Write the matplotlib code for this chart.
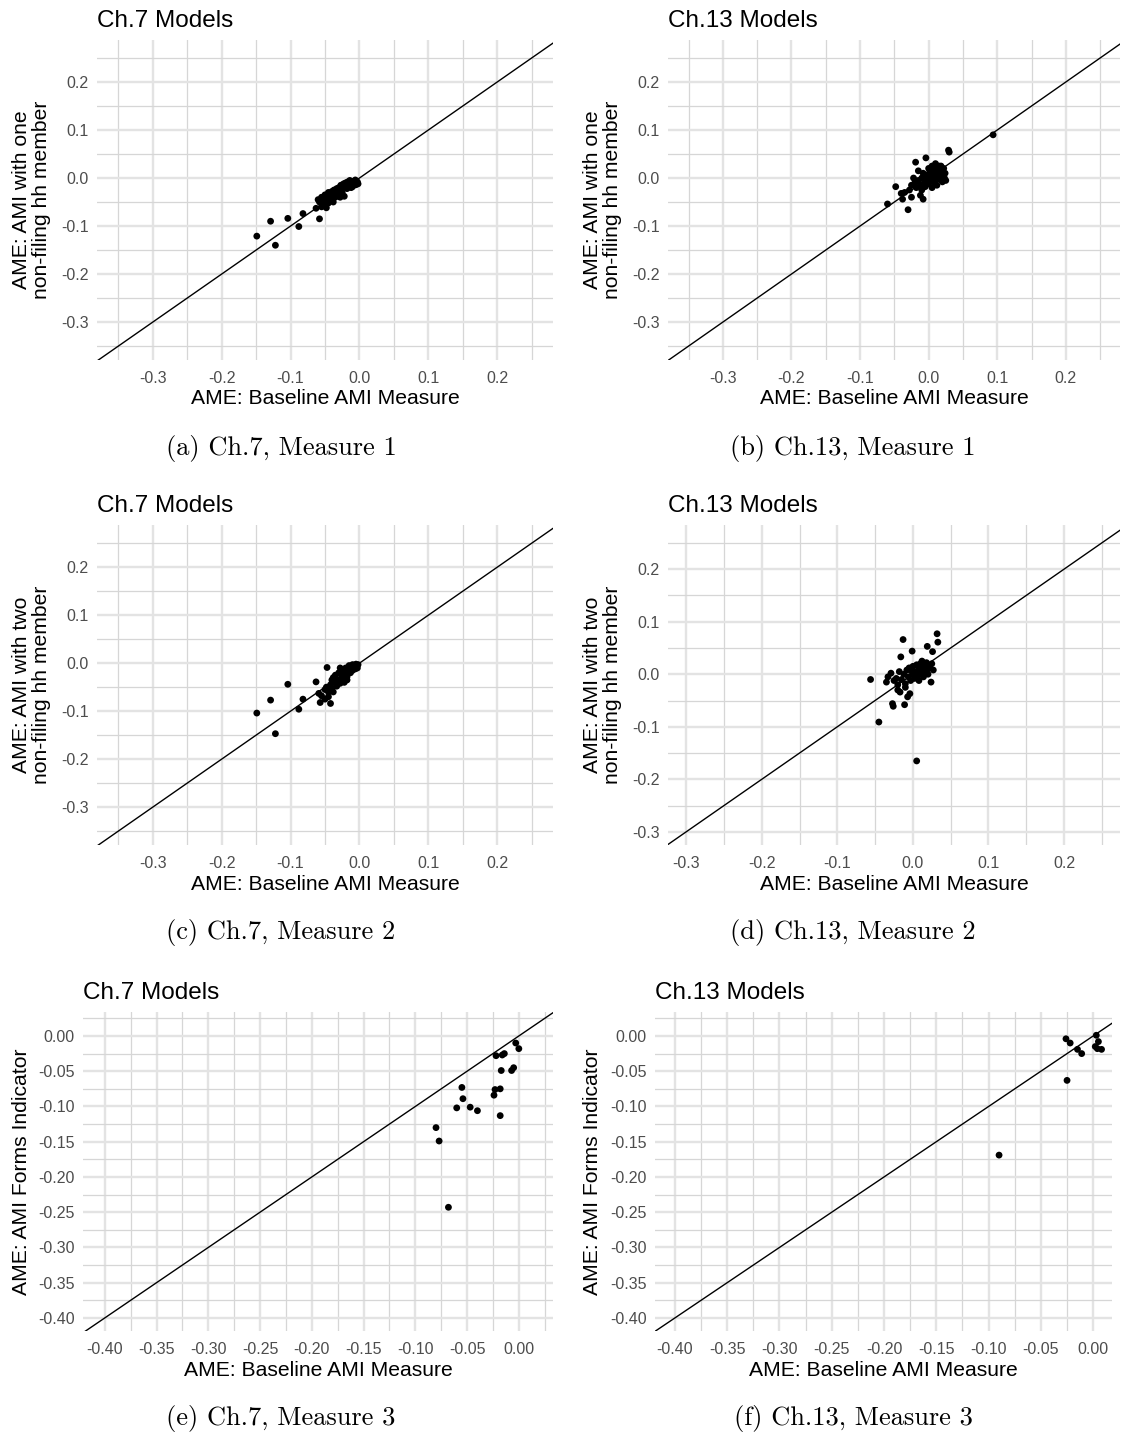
import matplotlib
matplotlib.use("Agg")
import matplotlib.pyplot as plt
import numpy as np
from matplotlib.ticker import MultipleLocator, FormatStrFormatter

# ---------------- data ----------------
a_x = [-0.149, -0.129, -0.122, -0.104, -0.088, -0.082, -0.058, -0.063, -0.057,
       -0.06, -0.058, -0.055, -0.055, -0.052, -0.05, -0.05, -0.048, -0.047, -0.045,
       -0.045, -0.043, -0.042, -0.04, -0.04, -0.038, -0.037, -0.035, -0.035, -0.033,
       -0.032, -0.03, -0.03, -0.028, -0.027, -0.025, -0.025, -0.023, -0.022, -0.02,
       -0.02, -0.018, -0.017, -0.015, -0.014, -0.012, -0.01, -0.01, -0.008, -0.006,
       -0.005, -0.003, -0.002, -0.012, -0.028]
a_y = [-0.121, -0.090, -0.140, -0.084, -0.101, -0.074, -0.085, -0.063, -0.046,
       -0.045, -0.05, -0.06, -0.04, -0.055, -0.035, -0.048, -0.062, -0.042, -0.03,
       -0.052, -0.038, -0.045, -0.028, -0.035, -0.05, -0.025, -0.032, -0.04, -0.022,
       -0.03, -0.02, -0.036, -0.025, -0.015, -0.03, -0.02, -0.012, -0.038, -0.018,
       -0.01, -0.022, -0.008, -0.015, -0.005, -0.012, -0.018, -0.007, -0.01, -0.004,
       -0.014, -0.008, -0.012, -0.02, -0.04]

b_x = [0.094, 0.029, 0.030, -0.060, -0.048, -0.030, -0.019, -0.004, -0.038, -0.008,
       -0.012, -0.035, -0.028, -0.040, -0.025, -0.02, -0.018, -0.015, -0.012, -0.01,
       -0.01, -0.008, -0.006, -0.005, -0.004, -0.002, 0.0, 0.0, 0.002, 0.003, 0.004,
       0.005, 0.006, 0.008, 0.009, 0.01, 0.011, 0.012, 0.014, 0.015, 0.016, 0.018,
       0.02, 0.02, 0.022, 0.024, 0.025, -0.022, -0.015, -0.025, 0.005, 0.01, 0.0,
       0.018, 0.023]
b_y = [0.090, 0.058, 0.054, -0.054, -0.018, -0.066, 0.033, 0.042, -0.044, -0.044,
       -0.036, -0.030, -0.025, -0.032, -0.040, -0.01, -0.02, -0.005, -0.015, 0.0,
       -0.025, 0.01, -0.008, -0.018, 0.005, -0.002, -0.012, 0.008, 0.015, -0.005, 0.002,
       -0.02, 0.012, 0.0, -0.01, 0.02, 0.005, -0.015, 0.01, 0.025, -0.003, 0.015,
       0.005, -0.008, 0.02, 0.01, -0.005, 0.0, 0.015, -0.015, 0.025, 0.03, 0.02,
       0.025, 0.0]

c_x = [-0.149, -0.129, -0.122, -0.104, -0.088, -0.082, -0.063, -0.047, -0.057, -0.059,
       -0.042, -0.05, -0.045, -0.055, -0.05, -0.048, -0.045, -0.042, -0.04, -0.04,
       -0.038, -0.035, -0.035, -0.033, -0.03, -0.03, -0.028, -0.026, -0.025, -0.023,
       -0.022, -0.02, -0.02, -0.018, -0.016, -0.015, -0.013, -0.012, -0.01, -0.01,
       -0.008, -0.006, -0.005, -0.004, -0.003, -0.002, -0.028, -0.038, -0.018]
c_y = [-0.104, -0.077, -0.147, -0.044, -0.096, -0.075, -0.039, -0.009, -0.082, -0.063,
       -0.084, -0.075, -0.07, -0.068, -0.055, -0.05, -0.06, -0.045, -0.052, -0.035,
       -0.06, -0.04, -0.025, -0.048, -0.035, -0.02, -0.042, -0.03, -0.015, -0.025,
       -0.04, -0.018, -0.01, -0.028, -0.012, -0.005, -0.02, -0.01, -0.015, -0.003,
       -0.008, -0.012, -0.002, -0.006, -0.01, -0.003, -0.01, -0.03, -0.035]

d_x = [0.005, -0.045, -0.056, -0.013, -0.001, -0.016, 0.032, 0.033, 0.019, 0.026,
       -0.027, -0.026, -0.011, -0.017, -0.007, -0.004, 0.024, -0.033, -0.029, -0.022,
       -0.035, -0.02, -0.025, -0.015, -0.012, -0.01, -0.008, -0.006, -0.005, -0.003,
       0.0, 0.0, 0.002, 0.004, 0.005, 0.006, 0.008, 0.01, 0.01, 0.012, 0.014, 0.015,
       0.016, 0.018, 0.02, 0.02, 0.022, 0.025, 0.027, -0.018, -0.002, 0.008, 0.012,
       -0.01, -0.02]
d_y = [-0.165, -0.091, -0.010, 0.066, 0.044, 0.033, 0.077, 0.061, 0.053, 0.043,
       -0.056, -0.061, -0.058, -0.034, -0.043, -0.037, -0.015, -0.005, 0.002, -0.008,
       -0.015, -0.02, -0.012, -0.01, 0.0, -0.018, 0.008, -0.005, 0.012, -0.012,
       0.0, 0.015, -0.008, 0.005, 0.018, -0.003, 0.01, 0.0, 0.02, 0.008, -0.005, 0.015,
       0.005, 0.022, 0.01, 0.0, 0.015, 0.02, 0.008, 0.005, 0.006, -0.012, 0.025,
       -0.025, -0.03]

e_x = [-0.003, 0.000, -0.022, -0.016, -0.014, -0.017, -0.007, -0.005, -0.055, -0.054,
       -0.060, -0.047, -0.040, -0.023, -0.024, -0.018, -0.018, -0.080, -0.077, -0.068]
e_y = [-0.010, -0.018, -0.028, -0.027, -0.025, -0.049, -0.049, -0.045, -0.073, -0.089,
       -0.102, -0.101, -0.106, -0.076, -0.084, -0.075, -0.113, -0.130, -0.149, -0.243]

f_x = [-0.026, -0.022, -0.015, -0.011, 0.003, 0.005, 0.002, 0.004, 0.008, -0.025, -0.090]
f_y = [-0.004, -0.010, -0.019, -0.025, 0.001, -0.008, -0.015, -0.018, -0.019, -0.063, -0.169]

titles = ["Ch.7 Models", "Ch.13 Models", "Ch.7 Models", "Ch.13 Models", "Ch.7 Models", "Ch.13 Models"]
ylabels = ["AME: AMI with one\nnon-filing hh member", "AME: AMI with one\nnon-filing hh member",
           "AME: AMI with two\nnon-filing hh member", "AME: AMI with two\nnon-filing hh member",
           "AME: AMI Forms Indicator", "AME: AMI Forms Indicator"]
xlabel = "AME: Baseline AMI Measure"
captions = ["(a) Ch.7, Measure 1", "(b) Ch.13, Measure 1", "(c) Ch.7, Measure 2",
            "(d) Ch.13, Measure 2", "(e) Ch.7, Measure 3", "(f) Ch.13, Measure 3"]

# ---------------- layout ----------------
W, H = 1122, 1435
fig = plt.figure(figsize=(W / 100, H / 100), dpi=100)
fig.patch.set_facecolor("white")

# (left, right, top, bottom) in pixels
boxes = [(97, 553, 40, 360), (668, 1120, 40, 360),
         (97, 553, 525, 845), (668, 1120, 525, 845),
         (83, 553, 1012, 1331), (655, 1112, 1012, 1331)]
lims = [((-0.381, 0.281), (-0.379, 0.2875)),
        ((-0.38, 0.279), (-0.379, 0.2875)),
        ((-0.381, 0.281), (-0.379, 0.288)),
        ((-0.324, 0.274), (-0.325, 0.284)),
        ((-0.421, 0.033), (-0.4185, 0.034)),
        ((-0.419, 0.018), (-0.4185, 0.034))]
data = [(a_x, a_y), (b_x, b_y), (c_x, c_y), (d_x, d_y), (e_x, e_y), (f_x, f_y)]
ylab_x = [[22, 42], [592, 612], [22, 42], [592, 612], [22], [592]]
cap_x = [281, 853, 281, 853, 281, 853]

sans = ["Liberation Sans", "DejaVu Sans"]
tick_col = "#4d4d4d"

for i in range(6):
    l, r, t, b = boxes[i]
    ax = fig.add_axes([l / W, 1 - b / H, (r - l) / W, (b - t) / H])
    ax.set_facecolor("white")
    (x0, x1), (y0, y1) = lims[i]
    if i < 4:
        maj, mnr, fmt = 0.1, 0.05, "%.1f"
    else:
        maj, mnr, fmt = 0.05, 0.025, "%.2f"
    ax.xaxis.set_major_locator(MultipleLocator(maj))
    ax.yaxis.set_major_locator(MultipleLocator(maj))
    ax.xaxis.set_minor_locator(MultipleLocator(mnr))
    ax.yaxis.set_minor_locator(MultipleLocator(mnr))
    ax.xaxis.set_major_formatter(FormatStrFormatter(fmt))
    ax.yaxis.set_major_formatter(FormatStrFormatter(fmt))
    ax.grid(True, which="major", color="#e3e3e3", lw=1.7, zorder=0)
    ax.grid(True, which="minor", color="#d6d6d6", lw=0.9, zorder=0)
    ax.set_axisbelow(True)
    for s in ax.spines.values():
        s.set_visible(False)
    ax.tick_params(which="both", length=0, labelsize=11.5, labelcolor=tick_col)
    ax.tick_params(axis="x", pad=8)
    ax.tick_params(axis="y", pad=6)
    # diagonal
    lo, hi = min(x0, y0) - 1, max(x1, y1) + 1
    ax.plot([lo, hi], [lo, hi], color="black", lw=1.0, zorder=2)
    ax.set_xlim(x0, x1)
    ax.set_ylim(y0, y1)
    for lab in ax.get_xticklabels() + ax.get_yticklabels():
        lab.set_family(sans)
    xs, ys = data[i]
    ax.scatter(xs, ys, s=24, color="black", edgecolors="none", zorder=3)

    # x label
    fig.text((l + r) / 2 / W, 1 - (b + 39) / H, xlabel, ha="center", va="center",
             fontsize=15.2, family=sans, color="black")
    # title
    fig.text(l / W, 1 - (t - 19) / H, titles[i], ha="left", va="center",
             fontsize=17.5, family=sans, color="black")
    # y label
    lines = ylabels[i].split("\n")
    cy = (t + b) / 2
    for k, line in enumerate(lines):
        fig.text(ylab_x[i][k] / W, 1 - cy / H, line, ha="center", va="center",
                 rotation=90, fontsize=15.2, family=sans, color="black")
    # caption
    fig.text(cap_x[i] / W, 1 - (b + 88) / H, captions[i], ha="center",
             va="center", fontsize=19, family=["cmr10", "DejaVu Serif"], color="black")

fig.savefig("out.png", dpi=100, facecolor="white")
